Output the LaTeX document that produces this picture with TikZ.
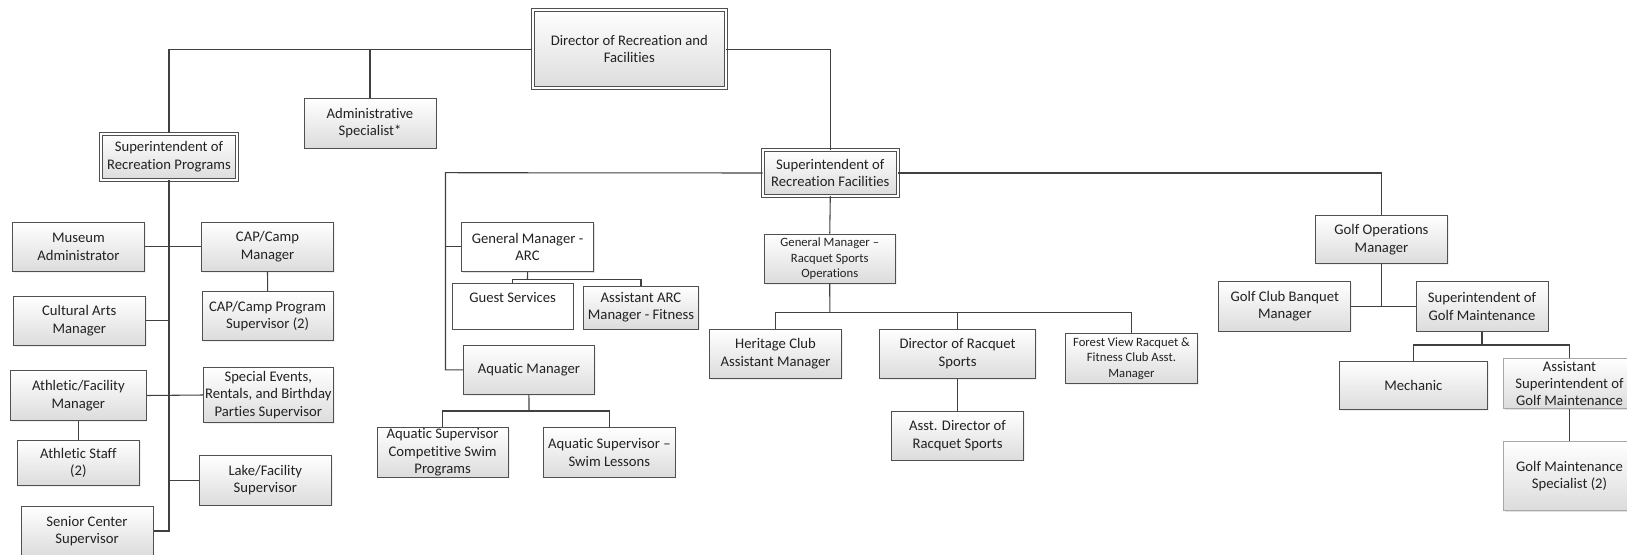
\documentclass[tikz,border=0pt]{standalone}
\usepackage{fontspec}
\setmainfont{Carlito}[Ligatures={NoCommon}]
\usetikzlibrary{shadows}
\definecolor{boxline}{HTML}{505050}
\definecolor{boxbot}{HTML}{DCDCDC}
\definecolor{connc}{HTML}{404040}
\definecolor{textc}{HTML}{222222}
\definecolor{lightline}{HTML}{A8A8A8}
\tikzset{
  obox/.style={draw=boxline, line width=0.75pt, top color=white, bottom color=boxbot,
    inner sep=0pt, align=center, font=\fontsize{11}{13}\selectfont, text=textc,
    drop shadow={opacity=0.12, shadow xshift=1.1pt, shadow yshift=-1.1pt}},
  dbox/.style={obox, double=white, double distance=1.5pt, line width=0.7pt},
  wbox/.style={obox, top color=white, bottom color=white},
  lbox/.style={obox, draw=lightline, line width=0.6pt},
  smalltxt/.style={font=\fontsize{9.5}{11.6}\selectfont},
  conn/.style={draw=connc, line width=0.8pt},
}
% [style] name x1 y1 x2 y2 text
\newcommand{\obox}[7][]{%
  \node[obox,#1,minimum width={(#5-#3)*0.75pt},minimum height={(#6-#4)*0.75pt}]
    (#2) at ({(#3+#5)/2},{(#4+#6)/2}) {#7};}
\begin{document}
\begin{tikzpicture}[x=0.75pt,y=-0.75pt]
\useasboundingbox (0,0) rectangle (1627,554);
\clip (0,0) rectangle (1627,554);
% top level
\obox[dbox]{dir}{532.7}{10.3}{725.9}{88}{Director of Recreation and\\Facilities}
\obox{adm}{304}{98.7}{436}{148}{Administrative\\Specialist*}
\obox[dbox]{srp}{101}{133.7}{237}{179.7}{Superintendent of\\Recreation Programs}
\obox[dbox]{srf}{763}{150.3}{897.6}{195.7}{Superintendent of\\Recreation Facilities}
% recreation programs
\obox{mus}{12.7}{222.3}{144.3}{271.3}{Museum\\Administrator}
\obox{capm}{201.7}{222.3}{333.3}{271.3}{CAP/Camp\\Manager}
\obox{capp}{202}{291.7}{333.3}{340.3}{CAP/Camp Program\\Supervisor (2)}
\obox{cul}{13.3}{296.3}{145.3}{345.3}{Cultural Arts\\Manager}
\obox{ath}{10.7}{370.3}{146}{420.7}{Athletic/Facility\\Manager}
\obox{spe}{203.3}{367.7}{333.3}{422.3}{Special Events,\\Rentals, and Birthday\\Parties Supervisor}
\obox{ats}{17}{440}{139.7}{485.7}{Athletic Staff\\(2)}
\obox{lake}{199.3}{455.7}{331.3}{505}{Lake/Facility\\Supervisor}
\obox{sen}{21}{506}{153}{556}{Senior Center\\Supervisor}
% ARC / aquatics
\obox[wbox]{gma}{461.9}{222.3}{593.2}{271.3}{General Manager -\\ARC}
\obox[wbox]{gs}{452.3}{283.7}{573}{329}{Guest Services\\\mbox{}}
\obox{aarc}{583.6}{286}{698.4}{329}{Assistant ARC\\Manager - Fitness}
\obox{aqm}{463.3}{345.3}{594.6}{394.3}{Aquatic Manager}
\obox{aqc}{377}{427.7}{508.3}{477}{Aquatic Supervisor\\Competitive Swim\\Programs}
\obox{aqs}{543.7}{427.7}{675}{477}{Aquatic Supervisor –\\Swim Lessons}
% racquet
\obox[smalltxt]{gmr}{764}{234}{895.5}{283.3}{General Manager –\\Racquet Sports\\Operations}
\obox{her}{709.9}{329}{841.2}{378.3}{Heritage Club\\Assistant Manager}
\obox{drs}{879.3}{329}{1035.8}{378.3}{Director of Racquet\\Sports}
\obox[smalltxt]{fv}{1065.7}{333.7}{1197.2}{383.3}{Forest View Racquet \&\\Fitness Club Asst.\\Manager}
\obox{adr}{891.7}{411}{1023.4}{460}{Asst. Director of\\Racquet Sports}
% golf
\obox{gop}{1315.5}{215.7}{1447.4}{263.3}{Golf Operations\\Manager}
\obox{ban}{1218.9}{281.7}{1350.8}{331}{Golf Club Banquet\\Manager}
\obox{sgm}{1416}{281.7}{1548}{331}{Superintendent of\\Golf Maintenance}
\obox{mech}{1339.2}{361.7}{1487.5}{409.3}{Mechanic}
\obox[lbox]{asgm}{1503.6}{358.7}{1635.4}{408.3}{Assistant\\Superintendent of\\Golf Maintenance}
\obox[lbox]{gms}{1503.6}{441}{1635.4}{510.7}{Golf Maintenance\\Specialist (2)}
% bus coordinates
\coordinate (fl) at (445.5,172.7);
\coordinate (abus) at (527.5,279.7);
\coordinate (qbus) at (529,411);
\coordinate (rbus) at (829.8,312.3);
\coordinate (gbus) at (1482,345);
% connectors
\draw[conn] (dir.west) -| (srp.north);
\draw[conn] (adm.north) -- (adm.north |- dir.west);
\draw[conn] (dir.east) -| (srf.north);
\draw[conn] (srp.south) |- (sen.east);
\draw[conn] (mus.east) -- (capm.west);
\draw[conn] (cul.east) -- (cul.east -| srp.south);
\draw[conn] (ath.east) -- (spe.west);
\draw[conn] (lake.west) -- (lake.west -| srp.south);
\draw[conn] (capm.south) -- (capp.north);
\draw[conn] (ath.south) -- (ats.north);
\draw[conn] (srf.west) -- (fl) |- (aqm.west);
\draw[conn] (gma.west) -- (gma.west -| fl);
\draw[conn] (gma.south) -- (abus);
\draw[conn] (gs.north) |- (abus) -| (aarc.north);
\draw[conn] (aqm.south) -- (qbus);
\draw[conn] (aqc.north) |- (qbus) -| (aqs.north);
\draw[conn] (srf.south) -- (gmr.north);
\draw[conn] (gmr.south) -- (rbus);
\draw[conn] (her.north) |- (rbus) -| (fv.north);
\draw[conn] (drs.north) -- (drs.north |- rbus);
\draw[conn] (drs.south) -- (adr.north);
\draw[conn] (srf.east) -| (gop.north);
\draw[conn] (ban.east) -- (sgm.west);
\draw[conn] (gop.south) -- (gop.south |- ban.east);
\draw[conn] (sgm.south) -- (gbus);
\draw[conn] (mech.north) |- (gbus) -| (asgm.north);
\draw[conn] (asgm.south) -- (gms.north);
\end{tikzpicture}
\end{document}
